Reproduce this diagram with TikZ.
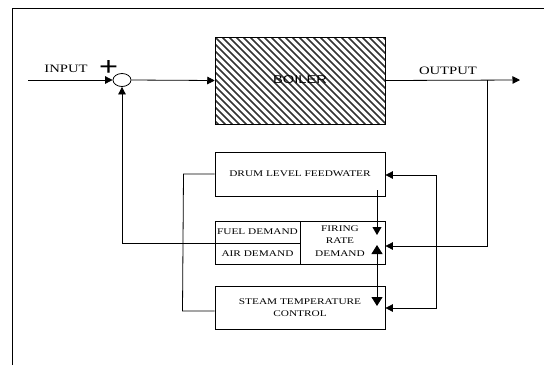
\documentclass[tikz,border=0pt]{standalone}
\usepackage{fontspec}
\setmainfont{Liberation Serif}[FakeStretch=1.3]
\newfontfamily\boilfont{Liberation Sans}[FakeStretch=1.3]
\newfontfamily\plusfont{Liberation Sans}
\usetikzlibrary{arrows.meta,shapes.geometric}
\tikzset{
  ln/.style={line width=0.8pt},
  box/.style={draw, line width=0.8pt, minimum width=170pt, inner sep=0pt},
  arr/.style={ln, -{Triangle[length=7.5pt,width=7.5pt]}},
  bigarr/.style={ln, {Triangle[length=9pt,width=11pt]}-{Triangle[length=9pt,width=11pt]}},
  smallt/.style={font=\fontsize{8.7}{12.3}\selectfont, align=center, inner sep=0pt},
  bigt/.style={font=\fontsize{11.3}{13}\selectfont, inner sep=0pt},
}
\begin{document}
\begin{tikzpicture}[x=1pt,y=-1pt]
\useasboundingbox (0,0) rectangle (544,365);
\draw[line width=0.8pt] (12,365) -- (12,8) -- (544,8);

% boiler hatching
\begin{scope}
\clip (215,37) rectangle (385,124);
\foreach \i in {-91,-84,...,175} \draw[line width=1.7pt, black!80] (215+\i,37) -- ++(95,95);
\end{scope}
\node[box, minimum height=87pt, line width=0.5pt] (boiler) at (300,80.5) {};
\node[font=\boilfont\fontsize{11.3}{13}\selectfont, inner sep=0pt] (boilt) at (300,80) {BOILER};

% other boxes
\node[box, minimum height=44pt] (drum) at (300,174) {};
\node[smallt] (drumt) at (300,174) {DRUM LEVEL FEEDWATER};
\node[box, minimum height=43pt] (fa) at (300,242.5) {};
\node[box, minimum height=43pt] (steam) at (300,307.5) {};
\node[smallt] (steamt) at (300,307.5) {STEAM TEMPERATURE\\CONTROL};
\draw[ln] (300,221) -- (300,264);
\coordinate (fadiv) at (215,243);
\draw[ln] (fadiv) -- (300,243);
\node[smallt] (fuel) at (257.5,232) {FUEL DEMAND};
\node[smallt] (air) at (257.5,253.5) {AIR DEMAND};
\node[smallt] (fire) at (340,241) {FIRING\\RATE\\DEMAND};

% summing junction
\node[ellipse, draw, ln, minimum width=18pt, minimum height=13pt, inner sep=0pt] (sum) at (122,80) {};
\node[font=\plusfont\fontsize{26}{26}\selectfont, xscale=1.25, inner sep=0pt] (plus) at (108.5,68) {+};
\node[bigt] (inp) at (66,69) {INPUT};
\node[bigt] (outp) at (448,70.5) {OUTPUT};

\coordinate (inS) at (28,80);
\coordinate (outE) at (520,80);
\draw[arr] (inS) -- (sum.west);
\draw[arr] (sum.east) -- (boiler.west);
\draw[arr] (boiler.east) -- (outE);

% output feedback to firing rate
\coordinate (o1) at (487,80);
\draw[arr] (o1) |- (fa.east |- 0,246);
% second feedback bus
\coordinate (b1) at (436,175);
\draw[arr] (b1) -- (drum.east |- b1);
\draw[arr] (b1) |- (steam.east |- 0,308);

% feedback to sum
\draw[arr] (fadiv) -| (sum.south);

% drum - steam link on the left
\draw[ln] (drum.west |- 0,174) -- (183.5,174) -- (182.5,311) -- (steam.west |- 0,311);

% vertical arrows inside
\coordinate (v1) at (377,190);
\coordinate (v2) at (377,235);
\coordinate (v3) at (377,245);
\coordinate (v4) at (377,306);
\draw[ln, -{Triangle[length=8pt,width=9pt]}] (v1) -- (v2);
\draw[bigarr] (v3) -- (v4);
\end{tikzpicture}
\end{document}
